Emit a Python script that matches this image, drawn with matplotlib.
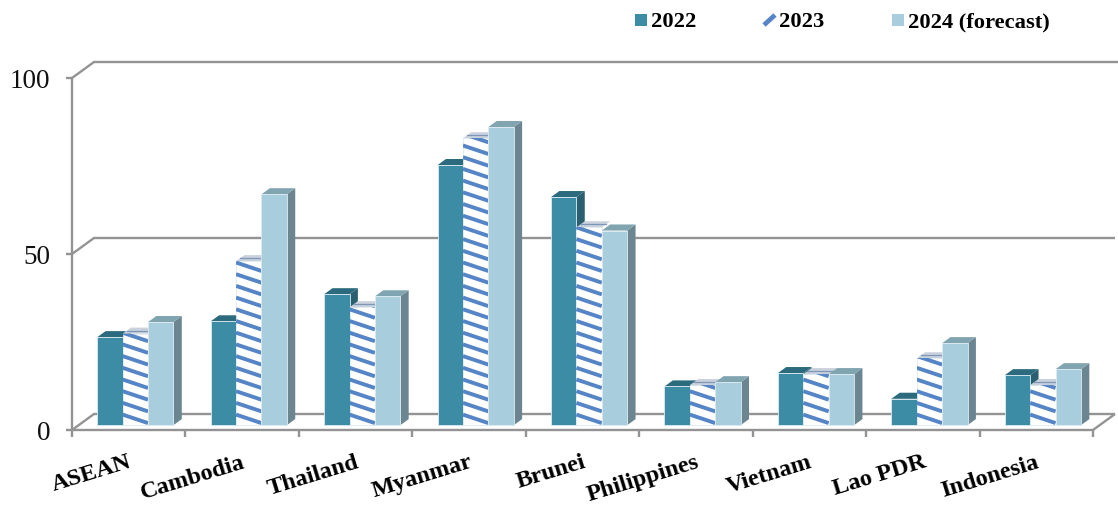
import numpy as np
import matplotlib.pyplot as plt
from matplotlib.patches import Polygon, Rectangle
from matplotlib.lines import Line2D

plt.rcParams['font.family'] = ['Liberation Serif', 'DejaVu Serif']

categories = ['ASEAN', 'Cambodia', 'Thailand', 'Myanmar', 'Brunei',
              'Philippines', 'Vietnam', 'Lao PDR', 'Indonesia']
series_names = ['2022', '2023', '2024 (forecast)']
v2022 = [25, 29.5, 37.2, 73.9, 64.8, 11, 14.8, 7.5, 14.2]
v2023 = [26, 46.6, 33.5, 81.5, 56.2, 11.4, 14.5, 19, 11.4]
v2024 = [29.3, 65.6, 36.6, 84.7, 55.3, 12.2, 14.5, 23.3, 15.9]
y_ticks = [0, 50, 100]

W, H = 1118, 506
GREY = '#939393'
BLUE = '#5585c6'

# front, top, side colours of each series
faces = [('#3d8ca6', '#2b6b7d', '#2a5f70'),
         ('#ffffff', '#c9d1dc', '#ffffff'),
         ('#a8cede', '#80a4b0', '#6b8591')]

# axes box spans the front plane of the 3d chart, in pixels
left, right, bottom, top = 72, 1093, 431, 79
fig = plt.figure(figsize=(W / 100, H / 100), dpi=100)
ax = fig.add_axes([left / W, 1 - bottom / H, (right - left) / W, (bottom - top) / H])
ax.set_xlim(0, 9)
ax.set_ylim(0, 100)
ax.axis('off')

# depth of the box in data units
px_x = 9 / (right - left)
px_y = 100 / (bottom - top)
DX = 22 * px_x
DY = 16 * px_y


def project(x, v, d):
    return (x + d * DX, v + d * DY)


def wall_line(points, lw=1.7):
    xs = [p[0] for p in points]
    ys = [p[1] for p in points]
    ax.plot(xs, ys, color=GREY, lw=lw, clip_on=False, zorder=1, solid_capstyle='butt',
            solid_joinstyle='miter')


# walls, gridlines, ticks
for t in y_ticks:
    end_x = 9 + 25 * px_x if t == 100 else 9
    wall_line([(0, t), project(0, t, 1), (end_x + (DX if t != 100 else 0), t + DY)])
    wall_line([(-6 * px_x, t), (0, t)])
wall_line([(0, 0), (0, 100)])
wall_line([(0, 0), (9, 0), project(9, 0, 1)])
for i in range(10):
    wall_line([(i, 0), (i, -7 * px_y)])

# the bars, left to right so that later ones cover earlier sides
bar_w = 25.4 * px_x
d0, d1 = 0.3, 0.68
values = [v2022, v2023, v2024]
period = 11.7 * px_y
drop = 8.5 * px_y

for i in range(len(categories)):
    start = i + 0.5 - 1.5 * bar_w
    for s in range(3):
        val = values[s][i]
        x0 = start + s * bar_w
        x1 = x0 + bar_w
        front = [project(x0, 0, d0), project(x1, 0, d0), project(x1, val, d0), project(x0, val, d0)]
        lid = [project(x0, val, d0), project(x1, val, d0), project(x1, val, d1), project(x0, val, d1)]
        side = [project(x1, 0, d0), project(x1, 0, d1), project(x1, val, d1), project(x1, val, d0)]
        z = 3 + s * 0.1 + i
        ec = '#dcebf0'
        ax.add_patch(Polygon(side, fc=faces[s][2], ec='none', zorder=z, clip_on=False))
        ax.add_patch(Polygon(lid, fc=faces[s][1], ec='none', zorder=z, clip_on=False))
        fp = Polygon(front, fc=faces[s][0], ec=ec, lw=0.6, zorder=z + 0.01, clip_on=False)
        ax.add_patch(fp)
        if s == 1:
            # diagonal stripes on the front, and a thin one across the lid
            base = d0 * DY
            for k in range(int(val / period) + 2):
                y_r = base + 0.6 + k * period
                xa, xb = project(x0, 0, d0)[0], project(x1, 0, d0)[0]
                ln = Line2D([xa, xb], [y_r + drop, y_r], color=BLUE, lw=2.8,
                            zorder=z + 0.02, solid_capstyle='butt')
                ax.add_line(ln)
                ln.set_clip_path(fp)
            mid = (d0 + d1) / 2
            ax.plot([project(x0, val, mid)[0], project(x1, val, mid)[0]],
                    [project(x0, val, mid)[1], project(x1, val, mid)[1]],
                    color='#7d97b8', lw=0.9, zorder=z + 0.02, clip_on=False)

# value axis labels
for t in y_ticks:
    ax.annotate(str(t), (0, t), xytext=(-22, -3), textcoords='offset pixels', ha='right',
                va='center', fontsize=19.5, color='#111111', annotation_clip=False)

# category labels, slanted
for i, name in enumerate(categories):
    ax.annotate(name, (i + 0.5, 0), xytext=(4, -36), textcoords='offset pixels', ha='right',
                va='baseline', rotation=17, rotation_mode='anchor', fontsize=17.5,
                fontweight='bold', color='black', annotation_clip=False)


# legend row along the top edge
def fx(p):
    return p / W


def fy(p):
    return 1 - p / H


swatch_x = [635, 763, 892]
text_x = [651, 779, 908]
for s, name in enumerate(series_names):
    if s == 1:
        fig.add_artist(Line2D([fx(764), fx(775)], [fy(26), fy(16)], color=BLUE, lw=3.4,
                              solid_capstyle='butt'))
    else:
        fig.add_artist(Rectangle((fx(swatch_x[s]), fy(27)), 12 / W, 12 / H, fc=faces[s][0],
                                 ec='none', transform=fig.transFigure))
    fig.text(fx(text_x[s]), fy(22), name, fontsize=16.2, fontweight='bold', ha='left',
             va='center', color='black')

fig.savefig('out.png', dpi=100)
